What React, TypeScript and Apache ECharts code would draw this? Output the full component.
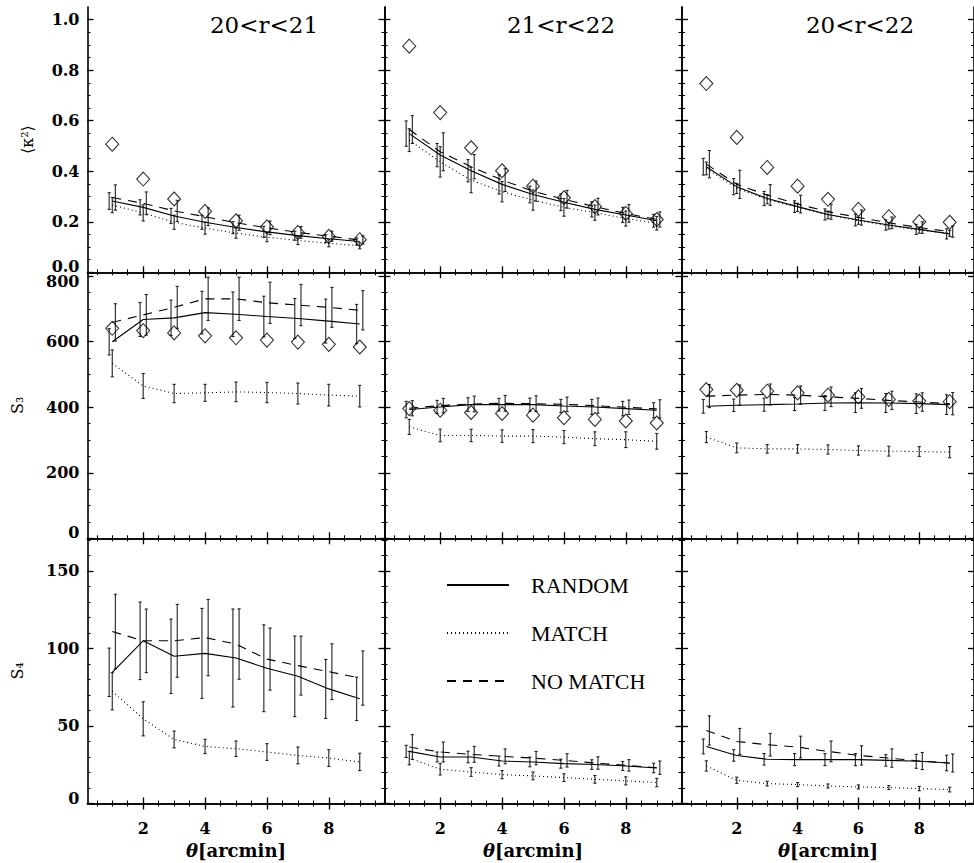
import React, { useEffect, useRef } from 'react';
import * as echarts from 'echarts';

// ---------- categories / ticks ----------
const THETA = [1, 2, 3, 4, 5, 6, 7, 8, 9];
const PANEL_TITLES = ['20<r<21', '21<r<22', '20<r<22'];
const SERIES_NAMES = ['RANDOM', 'MATCH', 'NO MATCH'];
const Y_TITLES = ['⟨κ²⟩', 'S₃', 'S₄'];
const X_TITLE = '{i|θ}[arcmin]';
const X_MAJOR_TICKS = [2, 4, 6, 8];
const X_MINOR_TICKS = [0.5, 1, 1.5, 2, 2.5, 3, 3.5, 4, 4.5, 5, 5.5, 6, 6.5, 7, 7.5, 8, 8.5, 9, 9.5];
const Y_MAJOR_TICKS_K2 = [0, 0.2, 0.4, 0.6, 0.8, 1.0];
const Y_MINOR_TICKS_K2 = [0, 0.05, 0.1, 0.15, 0.2, 0.25, 0.3, 0.35, 0.4, 0.45, 0.5, 0.55, 0.6, 0.65, 0.7, 0.75, 0.8, 0.85, 0.9, 0.95, 1.0];
const Y_MAJOR_TICKS_S3 = [0, 200, 400, 600, 800];
const Y_MINOR_TICKS_S3 = [0, 50, 100, 150, 200, 250, 300, 350, 400, 450, 500, 550, 600, 650, 700, 750, 800];
const Y_MAJOR_TICKS_S4 = [0, 50, 100, 150];
const Y_MINOR_TICKS_S4 = [0, 10, 20, 30, 40, 50, 60, 70, 80, 90, 100, 110, 120, 130, 140, 150, 160, 170];
const X_RANGE = [0.2, 9.8];
const Y_RANGE_K2 = [0, 1.05];
const Y_RANGE_S3 = [0, 812];
const Y_RANGE_S4 = [0, 171];

// ---------- row 1: <kappa^2> ----------
const K2_A_DIAMOND = [0.507, 0.369, 0.29, 0.241, 0.204, 0.18, 0.158, 0.142, 0.129];
const K2_A_RANDOM = [0.282, 0.257, 0.223, 0.198, 0.177, 0.16, 0.145, 0.133, 0.122];
const K2_A_RANDOM_ERR = [0.033, 0.03, 0.03, 0.028, 0.024, 0.022, 0.018, 0.016, 0.014];
const K2_A_MATCH = [0.266, 0.235, 0.198, 0.175, 0.155, 0.139, 0.126, 0.115, 0.105];
const K2_A_MATCH_ERR = [0.03, 0.032, 0.028, 0.024, 0.02, 0.018, 0.016, 0.014, 0.012];
const K2_A_NOMATCH = [0.296, 0.273, 0.243, 0.22, 0.196, 0.176, 0.158, 0.143, 0.128];
const K2_A_NOMATCH_ERR = [0.05, 0.045, 0.042, 0.035, 0.03, 0.027, 0.023, 0.02, 0.016];

const K2_B_DIAMOND = [0.895, 0.632, 0.493, 0.402, 0.341, 0.295, 0.26, 0.233, 0.209];
const K2_B_RANDOM = [0.549, 0.464, 0.402, 0.348, 0.308, 0.277, 0.249, 0.227, 0.204];
const K2_B_RANDOM_ERR = [0.05, 0.046, 0.044, 0.038, 0.033, 0.033, 0.03, 0.03, 0.025];
const K2_B_MATCH = [0.523, 0.437, 0.365, 0.319, 0.286, 0.257, 0.236, 0.213, 0.194];
const K2_B_MATCH_ERR = [0.045, 0.06, 0.05, 0.04, 0.04, 0.035, 0.03, 0.03, 0.027];
const K2_B_NOMATCH = [0.565, 0.477, 0.418, 0.365, 0.321, 0.289, 0.26, 0.233, 0.209];
const K2_B_NOMATCH_ERR = [0.055, 0.075, 0.048, 0.045, 0.04, 0.035, 0.033, 0.035, 0.03];

const K2_C_DIAMOND = [0.747, 0.534, 0.415, 0.341, 0.289, 0.249, 0.22, 0.2, 0.198];
const K2_C_RANDOM = [0.418, 0.339, 0.292, 0.26, 0.229, 0.207, 0.187, 0.17, 0.152];
const K2_C_RANDOM_ERR = [0.033, 0.032, 0.028, 0.023, 0.022, 0.023, 0.02, 0.02, 0.02];
const K2_C_MATCH = [0.411, 0.332, 0.289, 0.257, 0.227, 0.204, 0.184, 0.167, 0.154];
const K2_C_MATCH_ERR = [0.025, 0.02, 0.018, 0.016, 0.015, 0.014, 0.013, 0.012, 0.012];
const K2_C_NOMATCH = [0.428, 0.348, 0.306, 0.27, 0.24, 0.217, 0.196, 0.177, 0.161];
const K2_C_NOMATCH_ERR = [0.054, 0.056, 0.041, 0.035, 0.03, 0.03, 0.023, 0.023, 0.022];

// ---------- row 2: S3 ----------
const S3_A_DIAMOND = [641, 634, 627, 618, 612, 605, 599, 592, 584];
const S3_A_RANDOM = [600, 668, 673, 689, 684, 677, 671, 663, 654];
const S3_A_RANDOM_ERR = [40, 52, 54, 65, 68, 62, 61, 67, 60];
const S3_A_MATCH = [534, 465, 442, 444, 447, 445, 442, 437, 434];
const S3_A_MATCH_ERR = [41, 38, 28, 26, 30, 31, 32, 33, 33];
const S3_A_NOMATCH = [659, 682, 705, 731, 731, 719, 712, 705, 696];
const S3_A_NOMATCH_ERR = [57, 62, 64, 66, 66, 63, 63, 61, 60];

const S3_B_DIAMOND = [396, 391, 384, 381, 376, 368, 363, 358, 352];
const S3_B_RANDOM = [393, 401, 408, 408, 408, 404, 401, 396, 391];
const S3_B_RANDOM_ERR = [25, 20, 21, 19, 20, 20, 23, 22, 23];
const S3_B_MATCH = [340, 314, 314, 312, 312, 309, 304, 301, 296];
const S3_B_MATCH_ERR = [23, 19, 19, 19, 20, 20, 21, 24, 24];
const S3_B_NOMATCH = [397, 405, 410, 412, 411, 409, 405, 400, 395];
const S3_B_NOMATCH_ERR = [23, 22, 24, 24, 24, 22, 23, 22, 28];

const S3_C_DIAMOND = [454, 452, 449, 444, 437, 432, 424, 419, 417];
const S3_C_RANDOM = [403, 406, 408, 410, 413, 414, 413, 411, 408];
const S3_C_RANDOM_ERR = [21, 19, 20, 20, 23, 30, 29, 30, 30];
const S3_C_MATCH = [309, 276, 273, 273, 271, 268, 266, 265, 263];
const S3_C_MATCH_ERR = [17, 15, 13, 13, 14, 14, 15, 15, 17];
const S3_C_NOMATCH = [434, 437, 439, 437, 432, 427, 421, 416, 411];
const S3_C_NOMATCH_ERR = [35, 31, 32, 28, 30, 30, 28, 28, 34];

// ---------- row 3: S4 ----------
const S4_A_RANDOM = [84.6, 104.9, 94.9, 96.8, 93.8, 87.2, 82, 73.9, 67.5];
const S4_A_RANDOM_ERR = [15.6, 25, 24, 29, 31.6, 28, 26, 19, 14];
const S4_A_MATCH = [72.4, 54.6, 41.3, 36.8, 35.3, 33.2, 31, 29.3, 26.8];
const S4_A_MATCH_ERR = [12, 11, 5.4, 4.6, 5, 5.4, 5.4, 5.4, 5.6];
const S4_A_NOMATCH = [110.9, 104.9, 104.9, 107, 102.8, 93.1, 88.9, 85, 80.9];
const S4_A_NOMATCH_ERR = [24, 20.5, 23.5, 24.6, 22.7, 20, 19, 18, 17.5];

const S4_B_RANDOM = [33.6, 30, 30, 27.4, 26.8, 25.7, 25.1, 24.2, 22.9];
const S4_B_RANDOM_ERR = [3.9, 3.2, 3.7, 3.2, 3.1, 2.9, 3.1, 2.9, 3.1];
const S4_B_MATCH = [29.3, 22.1, 20.3, 18.6, 17.8, 16.7, 15.6, 14.6, 13.5];
const S4_B_MATCH_ERR = [4.3, 3.7, 2.8, 2.6, 2.5, 2.5, 2.5, 2.6, 2.7];
const S4_B_NOMATCH = [36.4, 33.2, 31.7, 30.4, 29.3, 27.8, 26.1, 24.6, 23.1];
const S4_B_NOMATCH_ERR = [8, 6.4, 5.1, 4.8, 4.3, 4.3, 4, 3.7, 4.3];

const S4_C_RANDOM = [36.8, 31, 28.5, 28.3, 28.3, 28.3, 27.8, 27.2, 26.1];
const S4_C_RANDOM_ERR = [4.8, 3.7, 3.7, 3.9, 3.9, 3.9, 3.7, 4.5, 5];
const S4_C_MATCH = [24.2, 15, 12.8, 12.2, 11.3, 10.7, 10.3, 9.6, 9];
const S4_C_MATCH_ERR = [3.3, 2, 1.5, 1.3, 1.3, 1.3, 1.3, 1.4, 1.5];
const S4_C_NOMATCH = [47.1, 40, 37.9, 36.4, 33.6, 31, 29.3, 27.4, 26.1];
const S4_C_NOMATCH_ERR = [9.4, 8.4, 7.3, 7, 6.7, 6.2, 5.9, 5.5, 5.8];

type Panel = {
  diamond?: number[];
  random: number[]; randomErr: number[];
  match: number[]; matchErr: number[];
  nomatch: number[]; nomatchErr: number[];
};

const PANELS: Panel[] = [
  { diamond: K2_A_DIAMOND, random: K2_A_RANDOM, randomErr: K2_A_RANDOM_ERR, match: K2_A_MATCH, matchErr: K2_A_MATCH_ERR, nomatch: K2_A_NOMATCH, nomatchErr: K2_A_NOMATCH_ERR },
  { diamond: K2_B_DIAMOND, random: K2_B_RANDOM, randomErr: K2_B_RANDOM_ERR, match: K2_B_MATCH, matchErr: K2_B_MATCH_ERR, nomatch: K2_B_NOMATCH, nomatchErr: K2_B_NOMATCH_ERR },
  { diamond: K2_C_DIAMOND, random: K2_C_RANDOM, randomErr: K2_C_RANDOM_ERR, match: K2_C_MATCH, matchErr: K2_C_MATCH_ERR, nomatch: K2_C_NOMATCH, nomatchErr: K2_C_NOMATCH_ERR },
  { diamond: S3_A_DIAMOND, random: S3_A_RANDOM, randomErr: S3_A_RANDOM_ERR, match: S3_A_MATCH, matchErr: S3_A_MATCH_ERR, nomatch: S3_A_NOMATCH, nomatchErr: S3_A_NOMATCH_ERR },
  { diamond: S3_B_DIAMOND, random: S3_B_RANDOM, randomErr: S3_B_RANDOM_ERR, match: S3_B_MATCH, matchErr: S3_B_MATCH_ERR, nomatch: S3_B_NOMATCH, nomatchErr: S3_B_NOMATCH_ERR },
  { diamond: S3_C_DIAMOND, random: S3_C_RANDOM, randomErr: S3_C_RANDOM_ERR, match: S3_C_MATCH, matchErr: S3_C_MATCH_ERR, nomatch: S3_C_NOMATCH, nomatchErr: S3_C_NOMATCH_ERR },
  { random: S4_A_RANDOM, randomErr: S4_A_RANDOM_ERR, match: S4_A_MATCH, matchErr: S4_A_MATCH_ERR, nomatch: S4_A_NOMATCH, nomatchErr: S4_A_NOMATCH_ERR },
  { random: S4_B_RANDOM, randomErr: S4_B_RANDOM_ERR, match: S4_B_MATCH, matchErr: S4_B_MATCH_ERR, nomatch: S4_B_NOMATCH, nomatchErr: S4_B_NOMATCH_ERR },
  { random: S4_C_RANDOM, randomErr: S4_C_RANDOM_ERR, match: S4_C_MATCH, matchErr: S4_C_MATCH_ERR, nomatch: S4_C_NOMATCH, nomatchErr: S4_C_NOMATCH_ERR },
];

const ROW_Y_RANGE = [Y_RANGE_K2, Y_RANGE_S3, Y_RANGE_S4];
const ROW_Y_MAJOR = [Y_MAJOR_TICKS_K2, Y_MAJOR_TICKS_S3, Y_MAJOR_TICKS_S4];
const ROW_Y_MINOR = [Y_MINOR_TICKS_K2, Y_MINOR_TICKS_S3, Y_MINOR_TICKS_S4];

// ---------- layout / style ----------
const COL_LEFT = [87.5, 384.5, 682];
const COL_WIDTH = 297;
const ROW_TOP = [7, 272.3, 538.3];
const ROW_HEIGHT = [265.3, 266, 265.2];
const ERR_OFFSET = { random: -0.1, match: 0, nomatch: 0.1 };
const TICK_FONT = 'DejaVu Serif';
const INK = '#000';

function errRender(params: any, api: any) {
  const x = api.value(0);
  const lo = api.value(1);
  const hi = api.value(2);
  const p1 = api.coord([x, lo]);
  const p2 = api.coord([x, hi]);
  const cap = 1.6;
  const style = { stroke: '#222', lineWidth: 1.1 };
  return {
    type: 'group',
    children: [
      { type: 'line', shape: { x1: p1[0], y1: p1[1], x2: p2[0], y2: p2[1] }, style },
      { type: 'line', shape: { x1: p1[0] - cap, y1: p1[1], x2: p1[0] + cap, y2: p1[1] }, style },
      { type: 'line', shape: { x1: p2[0] - cap, y1: p2[1], x2: p2[0] + cap, y2: p2[1] }, style },
    ],
  };
}

function buildOption() {
  const grid: any[] = [];
  const xAxis: any[] = [];
  const yAxis: any[] = [];
  const series: any[] = [];
  const labelStyle = { fontFamily: TICK_FONT, fontSize: 16, fontWeight: 'bold', color: INK };
  const shiftRich = {
    up: { fontFamily: TICK_FONT, fontSize: 16, fontWeight: 'bold', color: INK, padding: [0, 0, 11, 0] },
    down: { fontFamily: TICK_FONT, fontSize: 16, fontWeight: 'bold', color: INK, padding: [11, 0, 0, 0] },
  };

  for (let r = 0; r < 3; r++) {
    for (let c = 0; c < 3; c++) {
      const g = r * 3 + c;
      grid.push({ left: COL_LEFT[c], top: ROW_TOP[r], width: COL_WIDTH, height: ROW_HEIGHT[r], containLabel: false });
      const xBase = { type: 'value', gridIndex: g, min: X_RANGE[0], max: X_RANGE[1], splitLine: { show: false } };
      const majorTick = (vals: number[]) => ({ show: true, inside: true, length: 6, customValues: vals, lineStyle: { color: INK, width: 1.3 } });
      const minorTick = (vals: number[]) => ({ show: true, inside: true, length: 3, customValues: vals, lineStyle: { color: INK, width: 1.1 } });
      const line = { show: true, lineStyle: { color: INK, width: 1.6 } };
      const noLine = { show: false };
      const xMajor: any = {
        ...xBase, position: 'bottom', axisLine: line, axisTick: majorTick(X_MAJOR_TICKS),
        axisLabel: r === 2 ? { show: true, customValues: X_MAJOR_TICKS, margin: 17, ...labelStyle, formatter: (v: number) => String(v) } : { show: false },
      };
      if (r === 2) {
        xMajor.name = X_TITLE;
        xMajor.nameLocation = 'middle';
        xMajor.nameGap = 38;
        xMajor.nameTextStyle = { ...labelStyle, fontSize: 18, rich: { i: { fontFamily: TICK_FONT, fontSize: 18, fontWeight: 'bold', fontStyle: 'italic', color: INK } } };
      }
      xAxis.push(
        xMajor,
        { ...xBase, position: 'bottom', axisLine: noLine, axisTick: minorTick(X_MINOR_TICKS), axisLabel: { show: false } },
        { ...xBase, position: 'top', axisLine: line, axisTick: majorTick(X_MAJOR_TICKS), axisLabel: { show: false } },
        { ...xBase, position: 'top', axisLine: noLine, axisTick: minorTick(X_MINOR_TICKS), axisLabel: { show: false } },
      );
      const yr = ROW_Y_RANGE[r];
      const yBase = { type: 'value', gridIndex: g, min: yr[0], max: yr[1], splitLine: { show: false } };
      const fmtY = (v: number) => {
        const s = r === 0 ? v.toFixed(1) : String(v);
        if (v === 0) return '{up|' + s + '}';
        if (r === 1 && v === 800) return '{down|' + s + '}';
        return s;
      };
      const yMajor: any = {
        ...yBase, position: 'left', axisLine: line, axisTick: majorTick(ROW_Y_MAJOR[r]),
        axisLabel: c === 0 ? { show: true, customValues: ROW_Y_MAJOR[r], margin: 8, ...labelStyle, rich: shiftRich, formatter: fmtY } : { show: false },
      };
      if (c === 0) {
        yMajor.name = Y_TITLES[r];
        yMajor.nameLocation = 'middle';
        yMajor.nameRotate = 90;
        yMajor.nameGap = r === 0 ? 52 : 62;
        yMajor.nameTextStyle = { fontFamily: TICK_FONT, fontSize: 16, color: INK };
      }
      yAxis.push(
        yMajor,
        { ...yBase, position: 'left', axisLine: noLine, axisTick: minorTick(ROW_Y_MINOR[r]), axisLabel: { show: false } },
        { ...yBase, position: 'right', axisLine: line, axisTick: majorTick(ROW_Y_MAJOR[r]), axisLabel: { show: false } },
        { ...yBase, position: 'right', axisLine: noLine, axisTick: minorTick(ROW_Y_MINOR[r]), axisLabel: { show: false } },
      );

      const p = PANELS[g];
      const ax = { xAxisIndex: g * 4, yAxisIndex: g * 4 };
      const lineSeries = (name: string, vals: number[], type: any) => ({
        type: 'line', name, ...ax, data: THETA.map((t, i) => [t, vals[i]]),
        showSymbol: false, symbol: 'none', silent: true,
        itemStyle: { color: INK },
        lineStyle: { color: INK, width: 1.1, type },
        z: 3,
      });
      series.push(
        lineSeries(SERIES_NAMES[0], p.random, 'solid'),
        lineSeries(SERIES_NAMES[1], p.match, [1, 3]),
        lineSeries(SERIES_NAMES[2], p.nomatch, [9, 7]),
      );
      const errSeries = (vals: number[], errs: number[], off: number) => ({
        type: 'custom', ...ax, renderItem: errRender, silent: true, z: 2,
        data: THETA.map((t, i) => [t + off, vals[i] - errs[i], vals[i] + errs[i]]),
      });
      series.push(
        errSeries(p.random, p.randomErr, ERR_OFFSET.random),
        errSeries(p.match, p.matchErr, ERR_OFFSET.match),
        errSeries(p.nomatch, p.nomatchErr, ERR_OFFSET.nomatch),
      );
      if (p.diamond) {
        series.push({
          type: 'scatter', ...ax, silent: true, z: 4,
          symbol: 'diamond', symbolSize: [13, 14],
          itemStyle: { color: 'rgba(255,255,255,0)', borderColor: INK, borderWidth: 1.1 },
          data: THETA.map((t, i) => [t, p.diamond![i]]),
        });
      }
    }
  }

  const titleCenters = [264, 561, 860];
  const graphic = PANEL_TITLES.map((t, i) => ({
    type: 'text', x: titleCenters[i], y: 25, z: 10,
    style: { text: t, fontFamily: TICK_FONT, fontSize: 23, fill: INK, align: 'center', verticalAlign: 'middle' },
  }));

  return {
    animation: false,
    backgroundColor: '#fff',
    grid, xAxis, yAxis, series, graphic,
    legend: {
      data: SERIES_NAMES, orient: 'vertical', left: 441, top: 569,
      itemWidth: 62, itemHeight: 14, itemGap: 26, selectedMode: false,
      itemStyle: { color: 'rgba(0,0,0,0)', borderWidth: 0, opacity: 0 },
      textStyle: { fontFamily: 'Liberation Serif', fontSize: 22, color: INK, lineHeight: 22, padding: [0, 0, 0, 17] },
    },
  };
}

export default function App() {
  const ref = useRef<HTMLDivElement>(null);
  useEffect(() => {
    if (!ref.current) return;
    const chart = echarts.init(ref.current, undefined, { renderer: 'svg' });
    chart.setOption(buildOption() as any);
    return () => chart.dispose();
  }, []);
  return <div ref={ref} style={{ position: 'absolute', left: 0, top: 0, width: 974, height: 863 }} />;
}
